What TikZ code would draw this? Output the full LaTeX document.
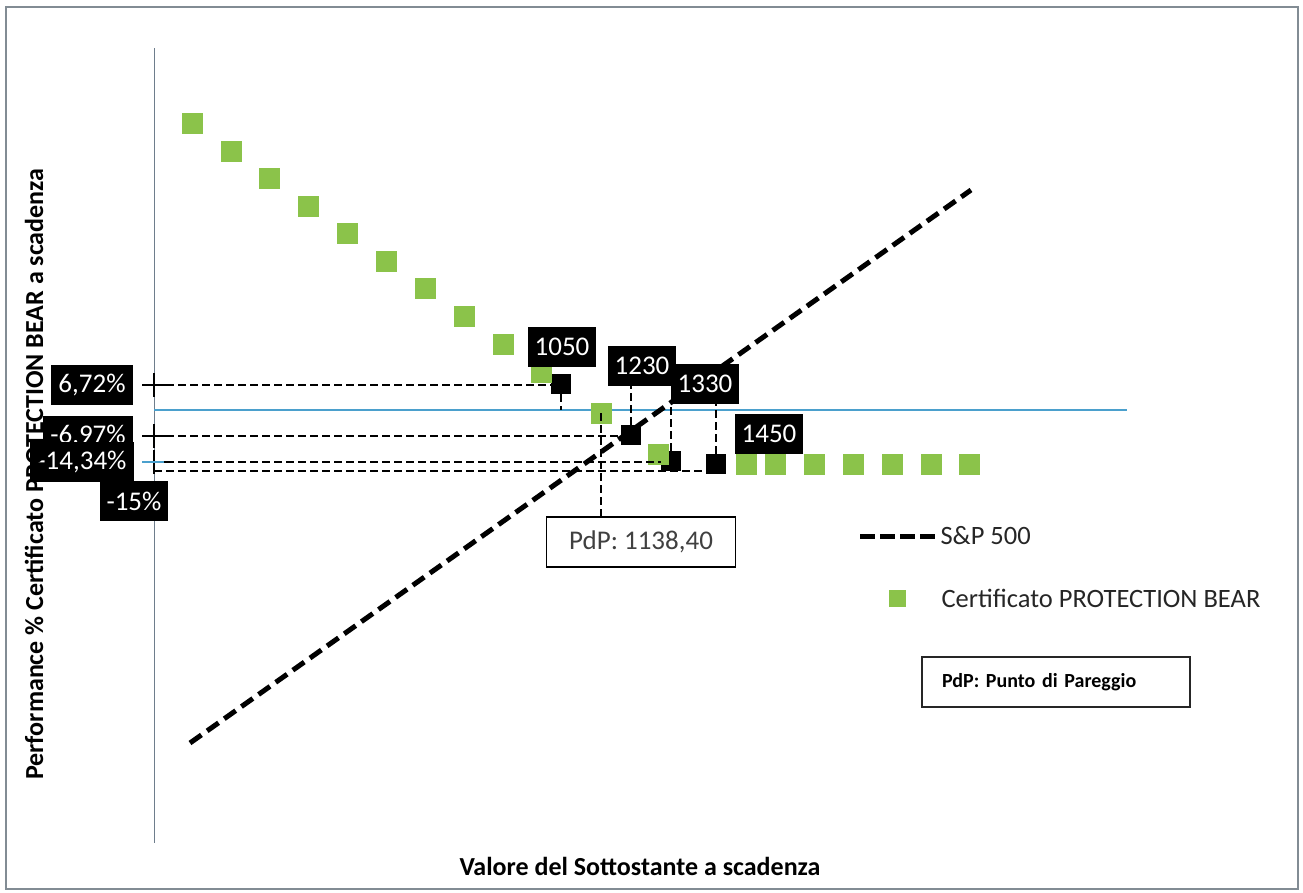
\documentclass[tikz,border=0pt]{standalone}
\usepackage{fontspec}
\setmainfont{Carlito}
\definecolor{certgreen}{RGB}{139,195,74}
\definecolor{zeroblue}{RGB}{75,160,205}
\definecolor{axisgray}{RGB}{110,125,140}
\definecolor{framegray}{RGB}{130,140,148}
\definecolor{legendgray}{RGB}{38,38,38}
\definecolor{pdpgray}{RGB}{64,64,64}
\begin{document}
\begin{tikzpicture}[x=1pt, y=-1pt,
    greensq/.style={fill=certgreen, minimum size=21pt, inner sep=0pt},
    marker/.style={fill=black, minimum size=20pt, inner sep=0pt},
    valbox/.style={fill=black, text=white, inner xsep=7pt, inner ysep=0pt, minimum height=40pt, font=\fontsize{27}{30}\selectfont},
    leader/.style={black, line width=2.3pt, dash pattern=on 8pt off 4pt},
    spx/.style={black, line width=5pt, dash pattern=on 14pt off 7pt},
    axistitle/.style={font=\bfseries\fontsize{26}{30}\selectfont},
    legendtext/.style={anchor=west, text=legendgray, font=\fontsize{26.5}{30}\selectfont}]
    \useasboundingbox (0,0) rectangle (1303,892);
    \draw[framegray, line width=2.5pt] (6,7) rectangle (1298,889);

    \draw[axisgray, line width=1pt] (154,48) -- (154,843);
    \coordinate (x0) at (154,410);
    \draw[zeroblue, line width=1.2pt] (x0) -- (1127,410);

    \coordinate (s0) at (190,743);
    \coordinate (s1) at (971,190);
    \draw[spx] (s0) -- (s1);

    \node[marker] (m1050) at (561,384) {};
    \node[marker] (m1230) at (631,435) {};
    \node[marker] (m1330) at (671,461) {};
    \node[marker] (m1450) at (716,464) {};

    \foreach \x/\y [count=\i] in {192/123, 231/151, 269/178, 308/206, 347/233, 386/261, 425/288, 464/316, 503/344, 541/372,
                                  601/413, 658/454, 746/464, 775/464, 814/464, 853/464, 892/464, 931/464, 969/464}
        \node[greensq] (g\i) at (\x,\y) {};

    \coordinate (t1) at (154,385);
    \coordinate (t2) at (154,436);
    \coordinate (t3) at (154,462);
    \coordinate (t4) at (154,471);
    \draw[leader] (t1) -- (t1 -| m1050.west);
    \draw[leader] (t2) -- (t2 -| m1230.west);
    \draw[leader] (t3) -- (t3 -| m1330.west);
    \draw[leader] (t4) -- (t4 -| m1450.west);
    \foreach \t in {t1,t2,t3}
        \draw[line width=1.2pt] ([xshift=-12pt]\t) -- ([xshift=12pt]\t) ([yshift=-12pt]\t) -- ([yshift=12pt]\t);
    \draw[zeroblue, line width=1.5pt] ([xshift=-12pt]t3) -- ([xshift=10pt]t3);

    \node[valbox] (l1050) at (562,347) {1050};
    \node[valbox] (l1230) at (642,366) {1230};
    \node[valbox] (l1330) at (705,384) {1330};
    \node[valbox] (l1450) at (769,434) {1450};

    \node[draw=black, line width=1.5pt, text=pdpgray, minimum width=189pt, minimum height=50pt,
          font=\fontsize{27}{30}\selectfont] (pdp) at (641,542) {PdP: 1138,40};

    \draw[leader] (m1050.south) -- (m1050 |- x0);
    \draw[leader] (m1230.north) -- (m1230.north |- l1230.south);
    \draw[leader] (m1330.north) -- (m1330.north |- l1330.south);
    \draw[leader] (m1450.north) -- (m1450.north |- l1330.south);
    \draw[leader] (g11.center) -- (g11 |- pdp.north);

    \node[valbox] (l672) at (92,385) {6,72\%};
    \node[valbox] (l697) at (88,436) {-6,97\%};
    \node[valbox] (l1434) at (82,462) {-14,34\%};
    \node[valbox] (l15) at (134,501) {-15\%};

    \coordinate (k0) at (860,536);
    \coordinate (k1) at (935,536);
    \draw[spx, dash pattern=on 15pt off 5pt] (k0) -- (k1);
    \node[legendtext] (lspx) at (937,536) {S\&P 500};
    \node[greensq, minimum size=17pt] (kg) at (897,598) {};
    \node[legendtext] (lcert) at (938,598) {Certificato PROTECTION BEAR};
    \node[draw=black!85, line width=2.5pt, minimum height=50pt, inner xsep=20pt, text width=228pt, align=left,
          font=\bfseries\fontsize{20}{24}\selectfont] (key) at (1056,682) {PdP: Punto di Pareggio};

    \node[axistitle] (xtitle) at (640,866) {Valore del Sottostante a scadenza};
    \node[axistitle, rotate=90] (ytitle) at (34,474) {Performance \% Certificato PROTECTION BEAR a scadenza};
\end{tikzpicture}
\end{document}
